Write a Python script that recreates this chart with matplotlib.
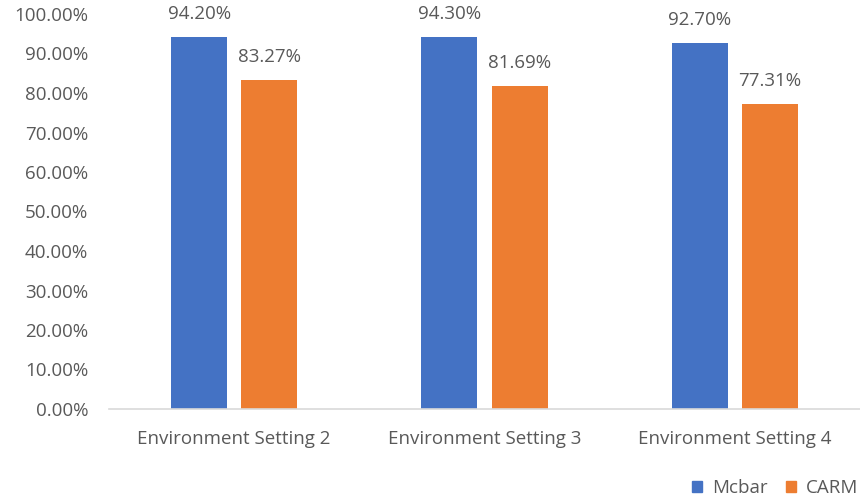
import matplotlib
matplotlib.use("Agg")
import matplotlib.pyplot as plt
import numpy as np
from matplotlib.ticker import FuncFormatter, MultipleLocator
from matplotlib.patches import Patch

categories = ["Environment Setting 2", "Environment Setting 3", "Environment Setting 4"]
mcbar = [94.20, 94.30, 92.70]
carm = [83.27, 81.69, 77.31]
series_names = ["Mcbar", "CARM"]

BLUE = "#4472C4"
ORANGE = "#ED7D31"
TEXT = "#595959"
FS = 13.5

plt.rcParams["font.family"] = ["Open Sans", "DejaVu Sans"]

fig = plt.figure(figsize=(8.6, 5.01), dpi=100)
ax = fig.add_axes([109 / 860, 1 - 409 / 501, 751 / 860, 395 / 501])

x = np.arange(len(categories))
w = 0.224
off = 0.14
b1 = ax.bar(x - off, mcbar, w, color=BLUE, label=series_names[0])
b2 = ax.bar(x + off, carm, w, color=ORANGE, label=series_names[1])

for bars, vals in ((b1, mcbar), (b2, carm)):
    for rect, v in zip(bars, vals):
        ax.annotate(f"{v:.2f}%", (rect.get_x() + rect.get_width() / 2, v),
                    xytext=(0, 10), textcoords="offset points",
                    ha="center", va="bottom", fontsize=FS, color=TEXT)

ax.set_xlim(-0.5, len(categories) - 0.5)
ax.set_ylim(0, 100)
ax.yaxis.set_major_locator(MultipleLocator(10))
ax.yaxis.set_major_formatter(FuncFormatter(lambda v, p: f"{v:.2f}%"))
ax.set_xticks(x)
ax.set_xticklabels(categories)
ax.tick_params(axis="both", length=0, labelsize=FS, labelcolor=TEXT)
ax.tick_params(axis="x", pad=15)
ax.tick_params(axis="y", pad=15)

for s in ("top", "right", "left"):
    ax.spines[s].set_visible(False)
ax.spines["bottom"].set_color("#D9D9D9")
ax.spines["bottom"].set_linewidth(1.2)

handles = [Patch(color=BLUE), Patch(color=ORANGE)]
fig.legend(handles, series_names, loc="center", bbox_to_anchor=(775 / 860, 1 - 488 / 501),
           ncol=2, frameon=False, fontsize=FS, labelcolor=TEXT,
           handlelength=0.55, handleheight=0.55, handletextpad=0.5, columnspacing=1.0)

fig.savefig("out.png", dpi=100)
